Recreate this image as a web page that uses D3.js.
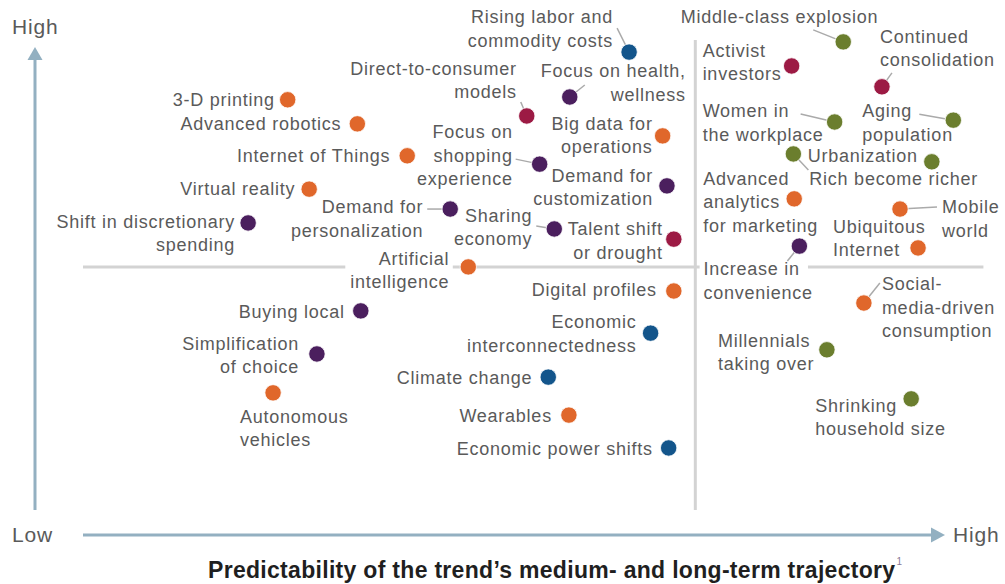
<!DOCTYPE html>
<html>
<head>
<meta charset="utf-8">
<script src="https://cdn.jsdelivr.net/npm/d3@7"></script>
<style>
  html, body { margin:0; padding:0; background:#fff; }
  svg { display:block; font-family:"Liberation Sans", Arial, Helvetica, sans-serif; }
</style>
</head>
<body>
<div id="chart"></div>
<script>
// Trend matrix: x = predictability of trajectory, y = impact (both 0-100 scale)
const trendNames = [
  '3-D printing', 'Advanced robotics', 'Internet of Things', 'Virtual reality',
  'Shift in discretionary\nspending', 'Demand for\npersonalization',
  'Rising labor and\ncommodity costs', 'Direct-to-consumer\nmodels',
  'Focus on health,\nwellness', 'Big data for\noperations',
  'Focus on\nshopping\nexperience', 'Demand for\ncustomization',
  'Sharing\neconomy', 'Talent shift\nor drought', 'Artificial\nintelligence',
  'Middle-class explosion', 'Activist\ninvestors', 'Continued\nconsolidation',
  'Women in\nthe workplace', 'Aging\npopulation', 'Rich become richer',
  'Urbanization', 'Advanced\nanalytics\nfor marketing', 'Mobile\nworld',
  'Ubiquitous\nInternet', 'Increase in\nconvenience',
  'Social-\nmedia-driven\nconsumption', 'Millennials\ntaking over',
  'Shrinking\nhousehold size', 'Buying local', 'Simplification\nof choice',
  'Autonomous\nvehicles', 'Digital profiles', 'Economic\ninterconnectedness',
  'Climate change', 'Wearables', 'Economic power shifts'
];
const trendX = [
  23.8, 31.9, 37.7, 26.3, 19.2, 42.7, 63.5, 51.6, 56.6, 67.4,
  53.1, 67.9, 54.8, 68.7, 44.8, 88.4, 82.4, 92.9, 87.4, 101.2,
  82.6, 98.7, 82.7, 95.0, 97.1, 83.3, 90.8, 86.5, 96.3, 32.3,
  27.2, 22.1, 68.7, 66.0, 54.1, 56.5, 68.1
];
const trendY = [
  88.6, 83.4, 76.5, 69.3, 62.0, 65.0, 98.9, 85.1, 89.2, 80.8,
  74.7, 70.0, 60.7, 58.5, 52.5, 101.1, 95.9, 91.4, 83.8, 84.2,
  76.9, 75.2, 67.2, 65.0, 56.6, 57.0, 44.7, 34.6, 24.0, 43.0,
  33.7, 25.3, 47.3, 38.2, 28.7, 20.5, 13.4
];
const trendGroup = [
  'tech', 'tech', 'tech', 'tech', 'consumer', 'consumer',
  'economy', 'business', 'consumer', 'tech',
  'consumer', 'consumer', 'consumer', 'business', 'tech',
  'demographic', 'business', 'business', 'demographic', 'demographic',
  'demographic', 'demographic', 'tech', 'tech', 'tech', 'consumer',
  'tech', 'demographic', 'demographic', 'consumer', 'consumer',
  'tech', 'tech', 'economy', 'economy', 'tech', 'economy'
];
const groupKeys = ['tech', 'consumer', 'economy', 'business', 'demographic'];
const axisLabels = { yHigh: 'High', low: 'Low', xHigh: 'High' };
const xTitle = 'Predictability of the trend\u2019s medium- and long-term trajectory';
const xTitleNote = '1';
const dividerX = 71.2;
const dividerY = 52.5;
// horizontal divider pieces (x ranges), broken around labels
const dividerYPieces = [[0, 30.5], [43.0, 71.7], [84.3, 104.7]];

const palette = {
  tech: '#e0672b',
  consumer: '#4b1f5e',
  economy: '#13558b',
  business: '#9c1a44',
  demographic: '#6b7e2e'
};

// label placement: anchor, offset of first baseline, optional leader end
const labelLayout = {
  '3-D printing': { a:'end', dx:-13, dy:6 },
  'Advanced robotics': { a:'end', dx:-16, dy:6 },
  'Internet of Things': { a:'end', dx:-17, dy:6 },
  'Virtual reality': { a:'end', dx:-14, dy:6 },
  'Shift in discretionary\nspending': { a:'end', dx:-13, dy:5 },
  'Demand for\npersonalization': { a:'end', dx:-27, dy:4, lead:[-23, 0] },
  'Rising labor and\ncommodity costs': { a:'end', dx:-16, dy:-29, lead:[-12, -24] },
  'Direct-to-consumer\nmodels': { a:'end', dx:-10, dy:-41, lead:[-6, -14] },
  'Focus on health,\nwellness': { a:'end', dx:116, dy:-20, lead:[15, -12] },
  'Big data for\noperations': { a:'end', dx:-10, dy:-6 },
  'Focus on\nshopping\nexperience': { a:'end', dx:-27, dy:-26, lead:[-24, -5] },
  'Demand for\ncustomization': { a:'end', dx:-14, dy:-4 },
  'Sharing\neconomy': { a:'end', dx:-22, dy:-7, lead:[-18, -3] },
  'Talent shift\nor drought': { a:'end', dx:-11, dy:-4 },
  'Artificial\nintelligence': { a:'end', dx:-19, dy:-2 },
  'Middle-class explosion': { a:'end', dx:35, dy:-19, lead:[-30, -12] },
  'Activist\ninvestors': { a:'start', dx:-89, dy:-9 },
  'Continued\nconsolidation': { a:'start', dx:-2, dy:-44, lead:[10, -14] },
  'Women in\nthe workplace': { a:'start', dx:-132, dy:-5, lead:[-34, -8] },
  'Aging\npopulation': { a:'start', dx:-91, dy:-3, lead:[-34, -6] },
  'Rich become richer': { a:'start', dx:16, dy:31, lead:[15, 16] },
  'Urbanization': { a:'end', dx:-14, dy:0 },
  'Advanced\nanalytics\nfor marketing': { a:'start', dx:-91, dy:-14 },
  'Mobile\nworld': { a:'start', dx:42, dy:4, lead:[37, -2] },
  'Ubiquitous\nInternet': { a:'start', dx:-85, dy:-15 },
  'Increase in\nconvenience': { a:'start', dx:-96, dy:29, lead:[-12, 15] },
  'Social-\nmedia-driven\nconsumption': { a:'start', dx:18, dy:-13, lead:[16, -20] },
  'Millennials\ntaking over': { a:'start', dx:-109, dy:-3 },
  'Shrinking\nhousehold size': { a:'start', dx:-96, dy:13 },
  'Buying local': { a:'end', dx:-16, dy:7 },
  'Simplification\nof choice': { a:'end', dx:-18, dy:-4 },
  'Autonomous\nvehicles': { a:'start', dx:-33, dy:30 },
  'Digital profiles': { a:'end', dx:-17, dy:5 },
  'Economic\ninterconnectedness': { a:'end', dx:-14, dy:-5 },
  'Climate change': { a:'end', dx:-16, dy:7 },
  'Wearables': { a:'end', dx:-17, dy:7 },
  'Economic power shifts': { a:'end', dx:-16, dy:7 }
};

const W = 1005, H = 584;
const axisColor = '#93b0c1';
const gridColor = '#d3d3d3';
const textColor = '#5a5a5a';
const lineH = 23.5;

const x = d3.scaleLinear().domain([0, 100]).range([83, 943]);
const y = d3.scaleLinear().domain([0, 100]).range([510, 47]);
const color = d3.scaleOrdinal().domain(groupKeys).range(groupKeys.map(k => palette[k]));

const trends = trendNames.map((n, i) => ({ name:n, x:trendX[i], y:trendY[i], group:trendGroup[i] }));

const svg = d3.select('#chart').append('svg')
  .attr('width', W).attr('height', H)
  .attr('viewBox', `0 0 ${W} ${H}`);

// quadrant dividers
svg.append('line')
  .attr('x1', x(dividerX)).attr('x2', x(dividerX))
  .attr('y1', 40).attr('y2', y(0))
  .attr('stroke', gridColor).attr('stroke-width', 3);
svg.selectAll('line.hdiv').data(dividerYPieces).enter().append('line')
  .attr('class', 'hdiv')
  .attr('x1', d => x(d[0])).attr('x2', d => x(d[1]))
  .attr('y1', y(dividerY)).attr('y2', y(dividerY))
  .attr('stroke', gridColor).attr('stroke-width', 3);

// axis arrows
const ax = svg.append('g');
ax.append('line').attr('x1', 35).attr('x2', 35).attr('y1', y(0)).attr('y2', 58)
  .attr('stroke', axisColor).attr('stroke-width', 3);
ax.append('path').attr('d', `M35,${y(100)} L27.5,${y(100) + 13} L42.5,${y(100) + 13} Z`).attr('fill', axisColor);
ax.append('line').attr('x1', x(0)).attr('x2', x(100) - 10).attr('y1', 535).attr('y2', 535)
  .attr('stroke', axisColor).attr('stroke-width', 3);
ax.append('path').attr('d', `M${x(100) + 2},535 L${x(100) - 12},527.5 L${x(100) - 12},542.5 Z`).attr('fill', axisColor);

const axText = svg.append('g').attr('fill', textColor)
  .style('font-size', '21px').style('letter-spacing', '0.8px');
axText.append('text').attr('x', 12).attr('y', 34).text(axisLabels.yHigh);
axText.append('text').attr('x', 12).attr('y', 542).text(axisLabels.low);
axText.append('text').attr('x', 953).attr('y', 542).text(axisLabels.xHigh);

// title (kept just inside the bottom edge so descenders show)
const title = svg.append('text').attr('x', 208).attr('y', 578)
  .attr('fill', '#1f1f1f').style('font-size', '23px').style('font-weight', 700)
  .style('letter-spacing', '0.3px')
  .text(xTitle);
title.append('tspan').attr('dy', -13).attr('dx', 1)
  .style('font-size', '10px').style('font-weight', 400).attr('fill', '#8a7a96')
  .text(xTitleNote);

// leaders
const g = svg.append('g');
const withLead = trends.filter(d => labelLayout[d.name].lead);
g.selectAll('line.lead').data(withLead).enter().append('line')
  .attr('class', 'lead')
  .attr('x1', d => x(d.x)).attr('y1', d => y(d.y))
  .attr('x2', d => x(d.x) + labelLayout[d.name].lead[0])
  .attr('y2', d => y(d.y) + labelLayout[d.name].lead[1])
  .attr('stroke', '#aaaaaa').attr('stroke-width', 1.5);

// dots
g.selectAll('circle.dot').data(trends).enter().append('circle')
  .attr('class', 'dot')
  .attr('cx', d => x(d.x)).attr('cy', d => y(d.y))
  .attr('r', 8.2)
  .attr('fill', d => color(d.group))
  .attr('stroke', '#fff').attr('stroke-width', 0.8);

// labels
const labels = g.selectAll('text.lbl').data(trends).enter().append('text')
  .attr('class', 'lbl')
  .attr('text-anchor', d => labelLayout[d.name].a)
  .attr('fill', textColor)
  .style('font-size', '18px').style('letter-spacing', '0.75px');
labels.each(function(d){
  const L = labelLayout[d.name];
  const el = d3.select(this);
  d.name.split('\n').forEach((line, i) => {
    el.append('tspan')
      .attr('x', x(d.x) + L.dx)
      .attr('y', y(d.y) + L.dy + i * lineH)
      .text(line);
  });
});
</script>
</body>
</html>
